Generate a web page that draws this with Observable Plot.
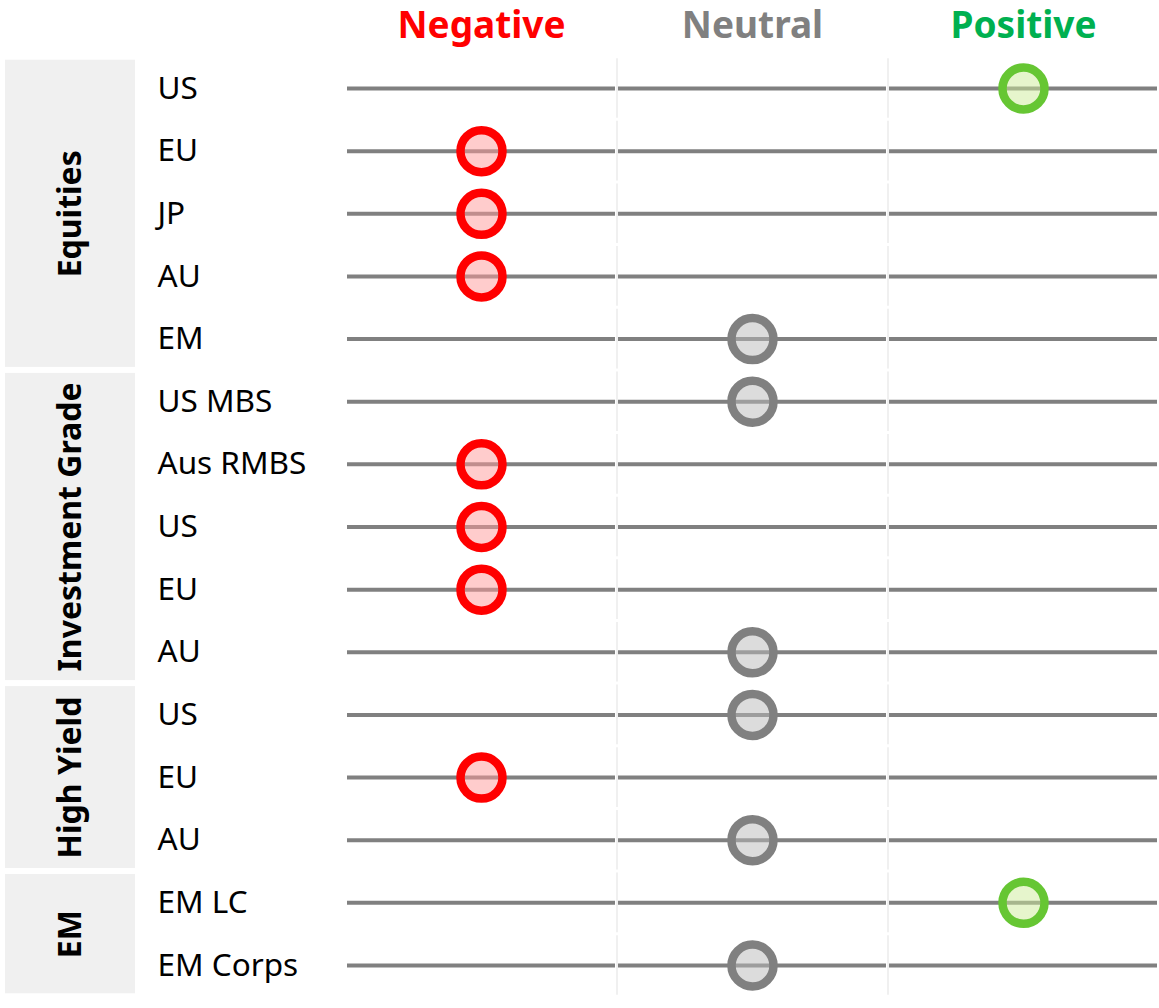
<!DOCTYPE html>
<html>
<head>
<meta charset="utf-8">
<script src="https://cdn.jsdelivr.net/npm/d3@7"></script>
<script src="https://cdn.jsdelivr.net/npm/@observablehq/plot@0.6"></script>
<style>
  html, body { margin: 0; padding: 0; background: #fff; }
  #chart { width: 1159px; height: 1008px; }
</style>
</head>
<body>
<div id="chart"></div>
<script>
// ---- data ----
const columns = ["Negative", "Neutral", "Positive"];
const groups = ["Equities", "Investment Grade", "High Yield", "EM"];
const rowLabels = ["US", "EU", "JP", "AU", "EM", "US MBS", "Aus RMBS", "US", "EU", "AU", "US", "EU", "AU", "EM LC", "EM Corps"];
const rowGroups = ["Equities", "Equities", "Equities", "Equities", "Equities",
  "Investment Grade", "Investment Grade", "Investment Grade", "Investment Grade", "Investment Grade",
  "High Yield", "High Yield", "High Yield", "EM", "EM"];
const ratings = ["Positive", "Negative", "Negative", "Negative", "Neutral",
  "Neutral", "Negative", "Negative", "Negative", "Neutral",
  "Neutral", "Negative", "Neutral", "Positive", "Neutral"];

// ---- styles ----
const headerColor = {Negative: "#ff0000", Neutral: "#808080", Positive: "#00b050"};
const strokeColor = {Negative: "#ff0000", Neutral: "#808080", Positive: "#66c633"};
const fillColor = {Negative: "#ff9999", Neutral: "#bababa", Positive: "#cdeb99"};

// ---- derived tables ----
const rows = rowLabels.map((label, i) => ({i, label, group: rowGroups[i], rating: ratings[i], col: columns.indexOf(ratings[i])}));
const segments = rows.flatMap(r => columns.map((c, j) => ({i: r.i, j})));
const seps = rows.flatMap(r => [1, 2].map(j => ({i: r.i, j})));
const groupSpans = groups.map(g => {
  const idx = rows.filter(r => r.group === g).map(r => r.i);
  return {group: g, start: d3.min(idx), end: d3.max(idx)};
});
const headers = columns.map((c, j) => ({c, j}));

const W = 1159, H = 1008, ML = 345.5;
const chart = Plot.plot({
  width: W,
  height: H,
  marginLeft: ML,
  marginRight: 0.5,
  marginTop: 56.7,
  marginBottom: 11.7,
  style: {fontFamily: "'Noto Sans', sans-serif", background: "#fff", overflow: "visible"},
  x: {domain: [0, 3], axis: null},
  y: {domain: [-0.5, rows.length - 0.5], reverse: true, axis: null},
  marks: [
    // group boxes (left margin)
    Plot.rect(groupSpans, {
      x1: 0, x2: 0,
      y1: d => d.start - 0.5, y2: d => d.end + 0.5,
      insetLeft: 5 - ML, insetRight: ML - 135, insetTop: 3, insetBottom: 3,
      fill: "#f0f0f0"
    }),
    // faint column separators
    Plot.ruleX(seps, {
      x: "j", y1: d => d.i - 0.5, y2: d => d.i + 0.5,
      insetTop: 1.5, insetBottom: 1.5,
      stroke: "#f0f0f0", strokeWidth: 2
    }),
    // row segments
    Plot.ruleY(segments, {
      y: "i", x1: "j", x2: d => d.j + 1,
      insetLeft: 1.5, insetRight: 1.5,
      stroke: "#808080", strokeWidth: 4
    }),
    // dots
    Plot.dot(rows, {
      x: d => d.col + 0.5, y: "i", r: 21,
      stroke: d => strokeColor[d.rating],
      fill: d => fillColor[d.rating],
      fillOpacity: 0.5, strokeWidth: 8.5
    }),
    // row labels
    Plot.text(rows, {
      y: "i", text: "label", frameAnchor: "left", dx: 157 - ML,
      textAnchor: "start", fontSize: 31.5, fill: "#000"
    }),
    // group labels
    Plot.text(groupSpans, {
      y: d => (d.start + d.end) / 2, text: "group", frameAnchor: "left", dx: 70 - ML,
      textAnchor: "middle", rotate: -90, fontSize: 32, fontWeight: "bold", fill: "#000"
    }),
    // headers
    Plot.text(headers, {
      x: d => d.j + 0.5, text: "c", frameAnchor: "top", dy: -45,
      fontSize: 37, fontWeight: "bold", fill: d => headerColor[d.c]
    })
  ]
});
document.getElementById("chart").append(chart);
</script>
</body>
</html>
